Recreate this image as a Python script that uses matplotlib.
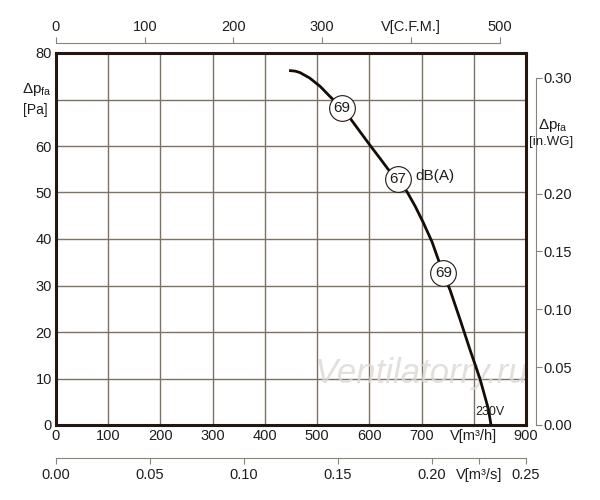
import numpy as np
import matplotlib
matplotlib.use("Agg")
import matplotlib.pyplot as plt

plt.rcParams['font.family'] = ['Liberation Sans', 'DejaVu Sans']
plt.rcParams['mathtext.fontset'] = 'custom'
plt.rcParams['mathtext.rm'] = 'Liberation Sans'

# fan curve
flow_m3h = [449, 458, 467, 486, 506, 525, 547, 563, 582, 601, 620, 636, 655, 672,
            688, 703, 720, 732, 742, 755, 774, 793, 812, 828, 833]
press_pa = [76.2, 76.1, 75.8, 74.6, 72.8, 70.6, 68.2, 66.0, 63.1, 60.2, 57.4, 55.0, 52.6, 50.2,
            47.0, 43.6, 39.4, 35.6, 32.6, 28.9, 22.6, 16.1, 9.9, 3.4, 0.0]

# noise markers on the curve
noise_flow = [547, 655, 742]
noise_press = [68.2, 53.0, 32.6]
noise_db = ['69', '67', '69']

x_ticks = [0, 100, 200, 300, 400, 500, 600, 700, 800, 900]
x_labels = ['0', '100', '200', '300', '400', '500', '600', '700', 'V[m³/h]', '900']
y_ticks = [0, 10, 20, 30, 40, 50, 60, 70, 80]
y_labels = ['0', '10', '20', '30', '40', '50', '60', '', '80']
cfm_ticks = [0, 100, 200, 300, 400, 500]
cfm_labels = ['0', '100', '200', '300', 'V[C.F.M.]', '500']
wg_ticks = [0.0, 0.05, 0.10, 0.15, 0.20, 0.30]
m3s_ticks = [0.0, 0.05, 0.10, 0.15, 0.20, 0.225, 0.25]
m3s_labels = ['0.00', '0.05', '0.10', '0.15', '0.20', 'V[m³/s]', '0.25']

CFM = 1.69901   # m3/h per cfm
PA_WG = 248.84  # Pa per in.WG
PX = 72 / 100   # points per pixel

dark = '#231710'
grey = '#8c8278'
txt = '#1e1e1e'

fig = plt.figure(figsize=(6, 5), dpi=100)
ax = fig.add_axes([56/600, 75/500, 470/600, 372/500])
ax.set_xlim(0, 900)
ax.set_ylim(0, 80)

ax.set_xticks(x_ticks)
ax.set_xticklabels(x_labels)
ax.set_yticks(y_ticks)
ax.set_yticklabels(y_labels)
ax.tick_params(length=0, labelsize=10.5, colors=txt, pad=3)
ax.grid(True, color='#7d7165', lw=1)
ax.set_axisbelow(True)
for s in ax.spines.values():
    s.set_color(dark)
    s.set_linewidth(2.2)

ax.plot(flow_m3h, press_pa, color='#140c06', lw=2.0, solid_joinstyle='round', zorder=3)
ax.plot(noise_flow, noise_press, 'o', ms=18.5, mfc='white', mec=dark, mew=0.8, zorder=4)
for fx, fy, t in zip(noise_flow, noise_press, noise_db):
    ax.text(fx, fy, t, ha='center', va='center', fontsize=11, color=txt, zorder=5)
ax.text(noise_flow[1] + 33, noise_press[1] + 0.5, 'dB(A)', ha='left', va='center', fontsize=11, color=txt)
ax.text(802, 1.5, '230V', ha='left', va='bottom', fontsize=9, color=txt, zorder=5)

# watermark
ax.text(700, 11, 'Ventilatorry.ru', ha='center', va='center', fontsize=25, style='italic',
        color='#dcd8d4', alpha=0.8, zorder=2)

# top axis in CFM
ax_top = ax.twiny()
ax_top.set_xlim(0, 900 / CFM)
ax_top.set_xticks(cfm_ticks)
ax_top.set_xticklabels(cfm_labels)
for k in ['left', 'right', 'bottom']:
    ax_top.spines[k].set_visible(False)
ax_top.spines['top'].set_position(('outward', 10 * PX))
ax_top.spines['top'].set_bounds(0, 500)
ax_top.spines['top'].set_color(grey)
ax_top.tick_params(axis='x', direction='out', length=6 * PX, color=grey, labelsize=10.5,
                   labelcolor=txt, pad=2)

# right axis in in.WG
ax_r = ax.twinx()
ax_r.set_ylim(0, 80 / PA_WG)
ax_r.set_yticks(wg_ticks)
ax_r.set_yticklabels(['%.2f' % v for v in wg_ticks])
for k in ['left', 'top', 'bottom']:
    ax_r.spines[k].set_visible(False)
ax_r.spines['right'].set_position(('outward', 10 * PX))
ax_r.spines['right'].set_bounds(0, 0.30)
ax_r.spines['right'].set_color(grey)
ax_r.tick_params(axis='y', direction='out', length=6 * PX, color=grey, labelsize=10.5,
                 labelcolor=txt, pad=1)

# second bottom axis in m3/s
ax_b = ax.twiny()
ax_b.set_xlim(0, 900 / 3600)
ax_b.xaxis.set_ticks_position('bottom')
ax_b.xaxis.set_label_position('bottom')
ax_b.set_xticks(m3s_ticks)
ax_b.set_xticklabels(m3s_labels)
for k in ['left', 'right', 'top']:
    ax_b.spines[k].set_visible(False)
ax_b.spines['bottom'].set_position(('outward', 33 * PX))
ax_b.spines['bottom'].set_color(grey)
ax_b.tick_params(axis='x', direction='out', length=6 * PX, color=grey, labelsize=10.5,
                 labelcolor=txt, pad=3)

# axis titles
fig.text(52/600, 1 - 90/500, r'$\Delta$p$_\mathregular{fa}$', ha='right', va='center', fontsize=11, color=txt)
fig.text(48/600, 1 - 110/500, '[Pa]', ha='right', va='center', fontsize=10, color=txt)
fig.text(553/600, 1 - 126/500, r'$\Delta$p$_\mathregular{fa}$', ha='center', va='center', fontsize=11, color=txt)
fig.text(551/600, 1 - 142/500, '[in.WG]', ha='center', va='center', fontsize=9.5, color=txt)

fig.savefig('out.png', dpi=100)
